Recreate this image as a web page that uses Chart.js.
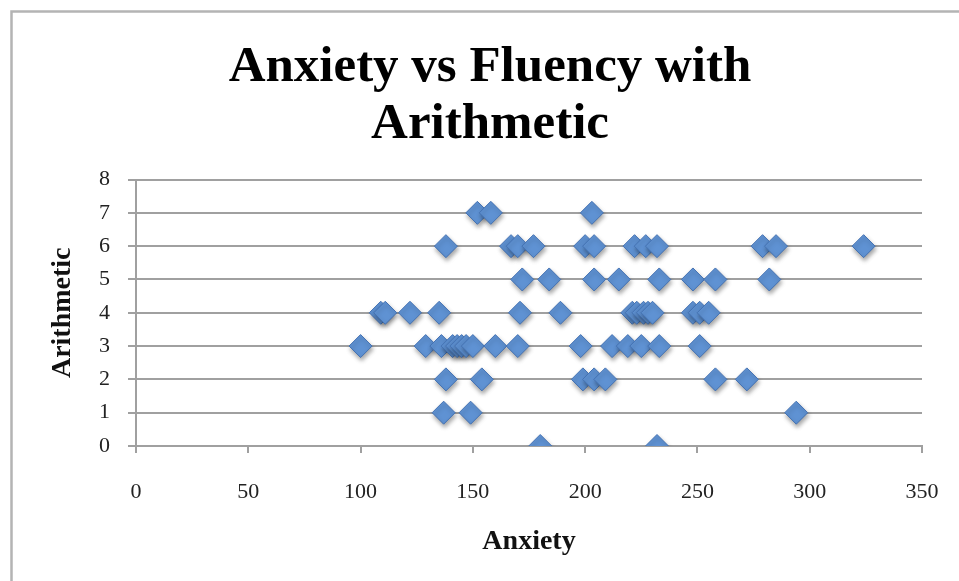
<!DOCTYPE html>
<html>
<head>
<meta charset="utf-8">
<script src="https://cdn.jsdelivr.net/npm/chart.js@4.4.1/dist/chart.umd.min.js"></script>
<style>
  html, body { margin: 0; padding: 0; background: #ffffff; }
  #wrap { width: 959px; height: 581px; position: relative; }
</style>
</head>
<body>
<div id="wrap"><canvas id="chart" width="959" height="581"></canvas></div>
<script>
// Anxiety score and arithmetic fluency score, one pair per student
const anxiety = [
  152, 158, 203,
  138, 167, 170, 177, 200, 204, 222, 227, 232, 279, 285, 324,
  172, 184, 204, 215, 233, 248, 258, 282,
  109, 111, 122, 135, 171, 189, 221, 223, 226, 228, 230, 248, 251, 255,
  100, 129, 136, 141, 143, 145, 147, 150, 160, 170, 198, 212, 219, 225, 233, 251,
  138, 154, 199, 204, 209, 258, 272,
  137, 149, 294,
  180, 232
];
const arithmetic = [
  7, 7, 7,
  6, 6, 6, 6, 6, 6, 6, 6, 6, 6, 6, 6,
  5, 5, 5, 5, 5, 5, 5, 5,
  4, 4, 4, 4, 4, 4, 4, 4, 4, 4, 4, 4, 4, 4,
  3, 3, 3, 3, 3, 3, 3, 3, 3, 3, 3, 3, 3, 3, 3, 3,
  2, 2, 2, 2, 2, 2, 2,
  1, 1, 1,
  0, 0
];
const titleLines = ['Anxiety vs Fluency with', 'Arithmetic'];
const xAxisTitle = 'Anxiety';
const yAxisTitle = 'Arithmetic';

const points = anxiety.map((a, i) => ({ x: a, y: arithmetic[i] }));

// Grey frame around the whole chart
const framePlugin = {
  id: 'frame',
  beforeDraw(chart) {
    const ctx = chart.ctx;
    ctx.save();
    ctx.fillStyle = '#ffffff';
    ctx.fillRect(0, 0, chart.width, chart.height);
    ctx.strokeStyle = '#b4b4b4';
    ctx.lineWidth = 2.5;
    ctx.strokeRect(11.5, 11.5, chart.width + 20, chart.height + 20);
    ctx.restore();
  }
};

// Soft drop shadow under the markers
const shadowPlugin = {
  id: 'markerShadow',
  beforeDatasetsDraw(chart) {
    const ctx = chart.ctx;
    ctx.save();
    ctx.shadowColor = 'rgba(0,0,0,0.35)';
    ctx.shadowBlur = 4;
    ctx.shadowOffsetX = 1;
    ctx.shadowOffsetY = 3;
  },
  afterDatasetsDraw(chart) {
    chart.ctx.restore();
  }
};

const serif = 'Liberation Serif';

new Chart(document.getElementById('chart'), {
  type: 'scatter',
  data: {
    datasets: [{
      label: 'Arithmetic',
      data: points,
      pointStyle: 'rectRot',
      pointRadius: 11.5,
      pointHoverRadius: 11.5,
      backgroundColor: '#5f92d3',
      borderColor: '#4472b3',
      borderWidth: 1
    }]
  },
  options: {
    responsive: false,
    animation: false,
    layout: { padding: { left: 58, right: 37, top: 0, bottom: 0 } },
    plugins: {
      legend: { display: false },
      tooltip: { enabled: false },
      title: {
        display: true,
        text: titleLines,
        color: '#000000',
        font: { family: serif, size: 51, weight: 'bold', lineHeight: 1.12 },
        padding: { top: 39.5, bottom: 25.8 }
      }
    },
    scales: {
      x: {
        type: 'linear',
        min: 0,
        max: 350,
        afterFit(scale) {
          scale.height = 135;
          // end labels fit inside the outer padding already
          scale.paddingLeft = 0;
          scale.paddingRight = 0;
        },
        ticks: {
          stepSize: 50,
          color: '#222222',
          font: { family: serif, size: 22 },
          padding: 26
        },
        grid: {
          drawOnChartArea: false,
          drawTicks: true,
          tickLength: 7,
          color: '#a0a0a0',
          lineWidth: 2
        },
        border: { display: true, color: '#a0a0a0', width: 2 },
        title: {
          display: true,
          text: xAxisTitle,
          color: '#111111',
          font: { family: serif, size: 28, weight: 'bold', lineHeight: 1.2 },
          padding: { top: 0, bottom: 22.2 }
        }
      },
      y: {
        type: 'linear',
        min: 0,
        max: 8,
        afterFit(scale) { scale.width = 78; },
        ticks: {
          stepSize: 1,
          color: '#222222',
          font: { family: serif, size: 22 },
          padding: 18
        },
        grid: {
          drawOnChartArea: true,
          drawTicks: true,
          tickLength: 8,
          color: '#a0a0a0',
          lineWidth: 2
        },
        border: { display: true, color: '#a0a0a0', width: 2 },
        title: {
          display: true,
          text: yAxisTitle,
          color: '#111111',
          font: { family: serif, size: 28, weight: 'bold', lineHeight: 1.2 },
          padding: { top: -11.8, bottom: 0 }
        }
      }
    }
  },
  plugins: [framePlugin, shadowPlugin]
});
</script>
</body>
</html>
